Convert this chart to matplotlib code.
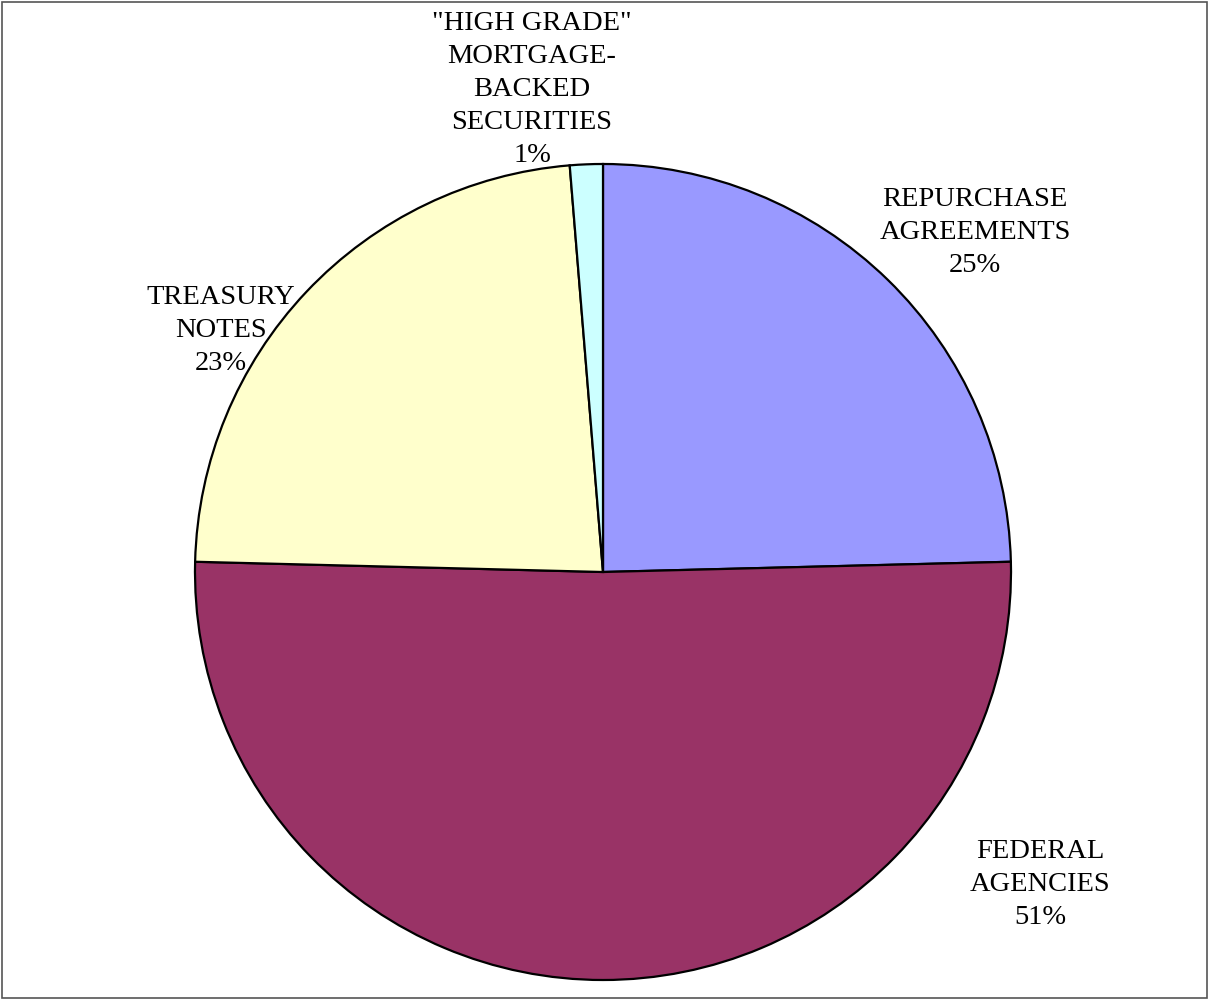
import matplotlib.pyplot as plt
from matplotlib.patches import Rectangle

categories = ["REPURCHASE\nAGREEMENTS", "FEDERAL\nAGENCIES", "TREASURY\nNOTES",
              "\"HIGH GRADE\"\nMORTGAGE-\nBACKED\nSECURITIES"]
values = [24.6, 50.8, 23.3, 1.3]
colors = ["#9999FF", "#993366", "#FFFFCC", "#CCFFFF"]
# label centres in pie units (radius = 1)
label_pos = [(0.912, 0.831), (1.071, -0.767), (-0.936, 0.591), (-0.174, 1.183)]

plt.rcParams['font.family'] = ['Liberation Serif', 'DejaVu Serif']

fig = plt.figure(figsize=(12.09, 10), dpi=100)
fig.patches.append(Rectangle((0.002, 0.002), 0.996, 0.996, transform=fig.transFigure,
                             fill=False, edgecolor='#555555', linewidth=1.2))

cx, cy, r = 603, 572, 408
ax = fig.add_axes([(cx - r) / 1209, (1000 - cy - r) / 1000, 2 * r / 1209, 2 * r / 1000])
ax.pie(values, colors=colors, startangle=90, counterclock=False, radius=1,
       wedgeprops=dict(edgecolor='black', linewidth=1.6))
ax.set_xlim(-1, 1)
ax.set_ylim(-1, 1)
ax.set_aspect('equal')
ax.axis('off')

for name, v, (x, y) in zip(categories, values, label_pos):
    ax.text(x, y, f"{name}\n{round(v)}%", ha='center', va='center', fontsize=20.5,
            linespacing=1.42, clip_on=False)

fig.savefig("out.png", dpi=100)
